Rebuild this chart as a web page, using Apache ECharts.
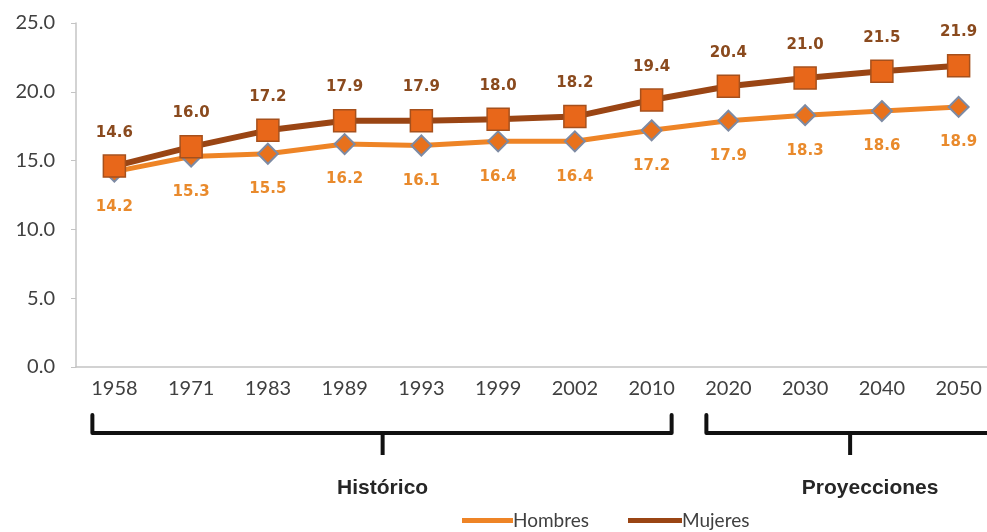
<!DOCTYPE html>
<html>
<head>
<meta charset="utf-8">
<script src="https://cdn.jsdelivr.net/npm/echarts@6/dist/echarts.min.js"></script>
<style>
  html, body { margin: 0; padding: 0; background: #fff; }
  #chart { width: 987px; height: 532px; }
</style>
</head>
<body>
<div id="chart"></div>
<script>
// datos
var years = ['1958', '1971', '1983', '1989', '1993', '1999', '2002', '2010', '2020', '2030', '2040', '2050'];
var hombres = [14.2, 15.3, 15.5, 16.2, 16.1, 16.4, 16.4, 17.2, 17.9, 18.3, 18.6, 18.9];
var mujeres = [14.6, 16.0, 17.2, 17.9, 17.9, 18.0, 18.2, 19.4, 20.4, 21.0, 21.5, 21.9];
// periodos marcados con llaves bajo el eje
var periodos = [
  { name: 'Histórico', from: '1958', to: '2010', mid: '1989' },
  { name: 'Proyecciones', from: '2020', to: '2050', mid: '2030' }
];

var chart = echarts.init(document.getElementById('chart'));

var labelFont = '"DejaVu Sans", Arial, sans-serif';

var option = {
  animation: false,
  textStyle: { fontFamily: 'Lato, "Liberation Sans", sans-serif' },
  grid: { left: 76, top: 23, bottom: 165, width: 921, outerBoundsMode: 'none', containLabel: false },
  legend: [
    {
      left: 457, top: 506,
      itemWidth: 51, itemHeight: 5, icon: 'rect',
      textStyle: { fontSize: 19, color: '#404040', padding: [0, 0, 0, -5] },
      data: [{ name: 'Hombres', itemStyle: { color: '#ee8426', borderWidth: 0 } }]
    },
    {
      left: 623, top: 506,
      itemWidth: 54, itemHeight: 5, icon: 'rect',
      textStyle: { fontSize: 19, color: '#404040', padding: [0, 0, 0, -5] },
      data: [{ name: 'Mujeres', itemStyle: { color: '#9a4514', borderWidth: 0 } }]
    }
  ],
  xAxis: {
    type: 'category',
    data: years,
    axisLine: { lineStyle: { color: '#c4c4c4', width: 1.5 } },
    axisTick: { lineStyle: { color: '#c4c4c4' }, length: 6 },
    axisLabel: { color: '#404040', fontSize: 20, margin: 12 }
  },
  yAxis: {
    type: 'value',
    min: 0,
    max: 25,
    interval: 5,
    splitLine: { show: false },
    axisLine: { show: true, lineStyle: { color: '#c4c4c4', width: 1.5 } },
    axisTick: { show: true, lineStyle: { color: '#c4c4c4' }, length: 5 },
    axisLabel: {
      color: '#404040', fontSize: 20, margin: 21,
      formatter: function (v) { return v.toFixed(1); }
    }
  },
  series: [
    {
      name: 'Hombres',
      type: 'line',
      data: hombres,
      symbol: 'diamond',
      symbolSize: 20,
      z: 2,
      lineStyle: { color: '#ee8426', width: 5 },
      itemStyle: { color: '#e8711c', borderColor: '#7d8aa3', borderWidth: 2 },
      label: {
        show: true, position: 'bottom', distance: 17,
        color: '#e98a2c', fontWeight: 'bold', fontSize: 15,
        fontFamily: labelFont,
        formatter: function (p) { return p.value.toFixed(1); }
      }
    },
    {
      name: 'Mujeres',
      type: 'line',
      data: mujeres,
      symbol: 'rect',
      symbolSize: 22,
      z: 3,
      lineStyle: { color: '#9a4514', width: 6 },
      itemStyle: { color: '#e8671a', borderColor: '#a6501c', borderWidth: 1.5 },
      label: {
        show: true, position: 'top', distance: 14,
        color: '#8a4a1e', fontWeight: 'bold', fontSize: 15,
        fontFamily: labelFont,
        formatter: function (p) { return p.value.toFixed(1); }
      }
    }
  ]
};

chart.setOption(option);

// llaves
var graphics = [];
var yTop = 415, yBar = 433, yBot = 455;
periodos.forEach(function (p, i) {
  var x0 = chart.convertToPixel({ xAxisIndex: 0 }, p.from) - 22;
  var x1 = chart.convertToPixel({ xAxisIndex: 0 }, p.to) + (i === 0 ? 20 : 45);
  var xm = chart.convertToPixel({ xAxisIndex: 0 }, p.mid) + (i === 0 ? 38 : 45);
  graphics.push({
    type: 'polyline',
    shape: { points: [[x0, yTop], [x0, yBar], [x1, yBar], [x1, yTop]] },
    style: { stroke: '#111', lineWidth: 4, fill: null, lineJoin: 'round', lineCap: 'round' }
  });
  graphics.push({
    type: 'line',
    shape: { x1: xm, y1: yBar, x2: xm, y2: yBot },
    style: { stroke: '#111', lineWidth: 4 }
  });
  graphics.push({
    type: 'text',
    x: xm + (i === 0 ? 0 : 20),
    y: 488,
    style: {
      text: p.name, align: 'center', verticalAlign: 'middle',
      fontSize: 21, fontWeight: 'bold', fill: '#262626',
      fontFamily: '"Liberation Sans", Arial, sans-serif'
    }
  });
});
chart.setOption({ graphic: graphics });
</script>
</body>
</html>
